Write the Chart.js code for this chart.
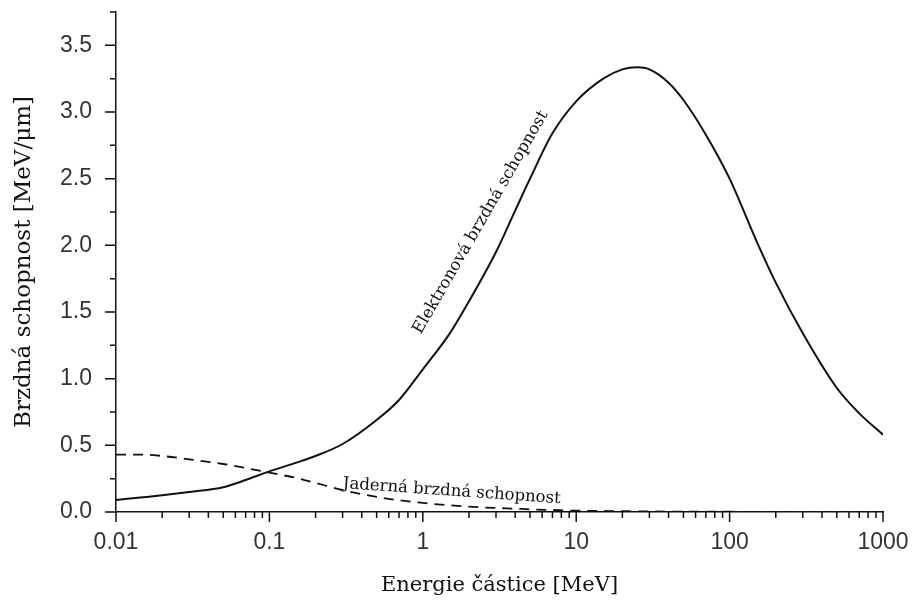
<!DOCTYPE html>
<html>
<head>
<meta charset="utf-8">
<script src="https://cdn.jsdelivr.net/npm/chart.js@4/dist/chart.umd.min.js"></script>
<style>
  body { margin: 0; background: #fff; }
  #wrap { width: 914px; height: 600px; }
</style>
</head>
<body>
<div id="wrap"><canvas id="chart" width="914" height="600"></canvas></div>
<script>
// energy grid [MeV] and stopping power [MeV/um]
const energy = [0.01, 0.015, 0.02, 0.03, 0.05, 0.07, 0.1, 0.15, 0.2, 0.3, 0.5, 0.7, 1, 1.5, 2, 3, 4, 5, 7, 10,
                15, 20, 25, 30, 40, 50, 70, 100, 150, 200, 300, 500, 700, 1000];
const electronic = [0.09, 0.11, 0.125, 0.15, 0.185, 0.24, 0.305, 0.37, 0.42, 0.51, 0.69, 0.84, 1.07, 1.34, 1.58, 1.95, 2.26, 2.5, 2.84, 3.08,
                    3.25, 3.32, 3.335, 3.32, 3.22, 3.09, 2.83, 2.5, 2.03, 1.72, 1.34, 0.93, 0.74, 0.58];
const nuclear = [0.43, 0.43, 0.42, 0.395, 0.36, 0.33, 0.295, 0.255, 0.218, 0.165, 0.113, 0.088, 0.068, 0.05, 0.04, 0.03, 0.025, 0.02, 0.015, 0.01,
                 0.008, 0.006, 0.005, 0.004, 0.003, 0.003, 0.002, 0.002, 0.001, 0.001, 0.001, 0.001, 0.001, 0.001];

const xTicks = [0.01, 0.1, 1, 10, 100, 1000];
const yTicks = [0, 0.5, 1, 1.5, 2, 2.5, 3, 3.5];

const xTitle = 'Energie částice [MeV]';
const yTitle = 'Brzdná schopnost [MeV/μm]';
const labelElectronic = 'Elektronová brzdná schopnost';
const labelNuclear = 'Jaderná brzdná schopnost';

const serif = '"DejaVu Serif", serif';
const sans = '"Liberation Sans", Arial, sans-serif';

function pts(ys) {
    return energy.map((e, i) => ({ x: e, y: ys[i] }));
}

// tick marks (major + minor), drawn through the scales
const tickMarks = {
    id: 'tickMarks',
    afterDraw(chart) {
        const { ctx, scales: { x, y }, chartArea } = chart;
        ctx.save();
        ctx.strokeStyle = '#111';
        ctx.lineWidth = 1.5;
        ctx.beginPath();
        for (let d = 0.01; d < 1001; d *= 10) {
            for (let m = 1; m < 10; m++) {
                const v = d * m;
                if (v > 1000.0001) break;
                const px = x.getPixelForValue(v);
                ctx.moveTo(px, chartArea.bottom);
                ctx.lineTo(px, chartArea.bottom + (m === 1 ? 10 : 6));
            }
        }
        for (let v = 0; v <= 3.75; v += 0.25) {
            const py = y.getPixelForValue(v);
            const major = Math.abs(v * 2 - Math.round(v * 2)) < 1e-6;
            ctx.moveTo(chartArea.left, py);
            ctx.lineTo(chartArea.left - (major ? 11 : 6), py);
        }
        ctx.stroke();
        ctx.restore();
    }
};

// curve labels, anchored in data coordinates
const curveLabels = [
    { text: labelElectronic, x: 0.97, y: 1.33, angle: -60 },
    { text: labelNuclear, x: 0.3, y: 0.18, angle: 4 }
];
const labelPlugin = {
    id: 'labelPlugin',
    afterDatasetsDraw(chart) {
        const { ctx, scales: { x, y } } = chart;
        ctx.save();
        ctx.fillStyle = '#111';
        ctx.font = '16.5px ' + serif;
        ctx.textBaseline = 'alphabetic';
        curveLabels.forEach(l => {
            ctx.save();
            ctx.translate(x.getPixelForValue(l.x), y.getPixelForValue(l.y));
            ctx.rotate(l.angle * Math.PI / 180);
            ctx.fillText(l.text, 0, 0);
            ctx.restore();
        });
        ctx.restore();
    }
};

new Chart(document.getElementById('chart').getContext('2d'), {
    type: 'scatter',
    data: {
        datasets: [{
            label: labelElectronic,
            data: pts(electronic),
            showLine: true,
            borderColor: '#111',
            borderWidth: 2,
            pointRadius: 0,
            cubicInterpolationMode: 'monotone'
        }, {
            label: labelNuclear,
            data: pts(nuclear),
            showLine: true,
            borderColor: '#111',
            borderWidth: 1.8,
            borderDash: [10, 7],
            pointRadius: 0,
            cubicInterpolationMode: 'monotone'
        }]
    },
    options: {
        responsive: false,
        animation: false,
        layout: { padding: { top: 12, right: 31, left: 0, bottom: 0 } },
        plugins: {
            legend: { display: false },
            tooltip: { enabled: false }
        },
        scales: {
            x: {
                type: 'logarithmic',
                min: 0.01,
                max: 1000,
                afterBuildTicks: s => { s.ticks = xTicks.map(v => ({ value: v })); },
                afterFit: s => { s.height = 88; s.paddingLeft = 0; s.paddingRight = 0; },
                grid: { display: false },
                border: { display: true, color: '#111', width: 1.5 },
                ticks: {
                    autoSkip: false,
                    maxRotation: 0,
                    padding: 9,
                    color: '#333',
                    font: { family: sans, size: 23 },
                    callback: v => String(v)
                },
                title: {
                    display: true,
                    text: xTitle,
                    color: '#111',
                    font: { family: serif, size: 21 },
                    padding: { top: 0, bottom: 2 }
                }
            },
            y: {
                min: 0,
                max: 3.75,
                afterBuildTicks: s => { s.ticks = yTicks.map(v => ({ value: v })); },
                afterFit: s => { s.width = 116; s.paddingTop = 0; s.paddingBottom = 0; },
                grid: { display: false },
                border: { display: true, color: '#111', width: 1.5 },
                ticks: {
                    padding: 16,
                    color: '#333',
                    font: { family: sans, size: 23 },
                    callback: v => v.toFixed(1)
                },
                title: {
                    display: true,
                    text: yTitle,
                    color: '#111',
                    font: { family: serif, size: 23 },
                    padding: { top: 10, bottom: 0 }
                }
            }
        }
    },
    plugins: [tickMarks, labelPlugin]
});
</script>
</body>
</html>
